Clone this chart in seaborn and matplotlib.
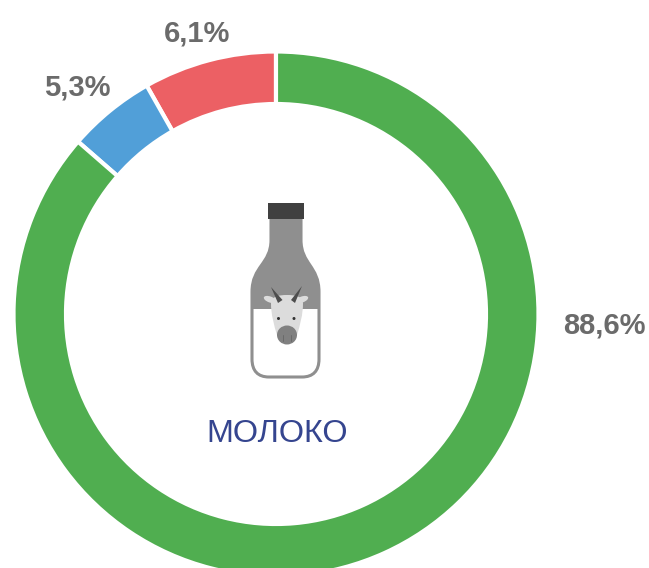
import matplotlib
matplotlib.use("Agg")
import matplotlib.pyplot as plt
import seaborn as sns
from matplotlib.patches import Ellipse, PathPatch, Polygon, Rectangle
from matplotlib.path import Path

# arc shares as drawn in the picture, printed labels differ from them
categories = ["red", "blue", "green"]
arc_shares = [8.2, 5.4, 86.4]
value_labels = ["6,1%", "5,3%", "88,6%"]
slice_colors = ["#ec6064", "#519fd8", "#50ae50"]
title = "МОЛОКО"

sns.set_theme(style="white")
plt.rcParams['font.family'] = ['Liberation Sans', 'DejaVu Sans']

fig = plt.figure(figsize=(6.49, 5.68), dpi=100)
ax = fig.add_axes([0, 0, 1, 1])

ax.pie(arc_shares, colors=slice_colors, center=(276, 314), radius=262.5,
       startangle=-90, counterclock=False,
       wedgeprops=dict(width=52.5, edgecolor="white", linewidth=3))
ax.set_xlim(0, 649)
ax.set_ylim(568, 0)
ax.set_aspect("equal")
ax.axis("off")

# labels
label_xy = [(197, 33), (77, 88), (604, 325)]
for lab, (x, y) in zip(value_labels, label_xy):
    ax.text(x, y, lab, ha="center", va="center", fontsize=21,
            fontweight="bold", color="#6b6b6b")
ax.text(277.5, 434, title, ha="center", va="center", fontsize=23.3, color="#35458f")

# bottle icon
M, L, C, Z = Path.MOVETO, Path.LINETO, Path.CURVE4, Path.CLOSEPOLY
grey = "#8f8f8f"
verts = [(271, 217), (271, 240),
         (271, 264), (252, 266), (252, 292),
         (252, 359),
         (252, 371), (258, 377), (269, 377),
         (302, 377),
         (313, 377), (319, 371), (319, 359),
         (319, 292),
         (319, 266), (301, 264), (301, 240),
         (301, 217), (271, 217)]
codes = [M, L, C, C, C, L, C, C, C, L, C, C, C, L, C, C, C, L, Z]
bottle = Path(verts, codes)
ax.add_patch(PathPatch(bottle, facecolor="white", edgecolor=grey, linewidth=2.2))
fill = PathPatch(bottle, facecolor=grey, edgecolor="none")
ax.add_patch(fill)
fill.set_clip_path(Rectangle((240, 200), 90, 108.5, transform=ax.transData))
ax.add_patch(Rectangle((267.5, 203), 36.5, 16, facecolor="#404040", edgecolor="none"))

# cow: ears, head, horns, muzzle, eyes
ax.add_patch(Ellipse((270, 299.5), 13, 6, angle=20, facecolor="#dcdcdc", edgecolor="none"))
ax.add_patch(Ellipse((302, 299.5), 13, 6, angle=-20, facecolor="#dcdcdc", edgecolor="none"))
head = Path([(271, 303),
             (272, 296), (279, 295), (287, 295),
             (295, 295), (302, 296), (303, 303),
             (303, 315), (300, 325), (297, 335),
             (277, 335),
             (274, 325), (271, 315), (271, 303)],
            [M, C, C, C, C, C, C, C, C, C, L, C, C, C])
ax.add_patch(PathPatch(head, facecolor="#dcdcdc", edgecolor="none"))
ax.add_patch(Polygon([(271, 287), (282.5, 300), (278, 303)], facecolor="#4d4d4d", edgecolor="none"))
ax.add_patch(Polygon([(302, 286), (291, 300), (295, 303)], facecolor="#4d4d4d", edgecolor="none"))
ax.add_patch(Ellipse((287, 335), 20, 19, facecolor="#808080", edgecolor="none"))
ax.add_patch(Ellipse((278.5, 318.5), 3, 3, facecolor="#333333", edgecolor="none"))
ax.add_patch(Ellipse((294, 318.5), 3, 3, facecolor="#333333", edgecolor="none"))
ax.plot([282.5, 282.5], [335, 341], color="#6a6a6a", lw=0.7)
ax.plot([291, 291], [335, 341], color="#6a6a6a", lw=0.7)

fig.savefig("out.png", dpi=100, facecolor="white")
